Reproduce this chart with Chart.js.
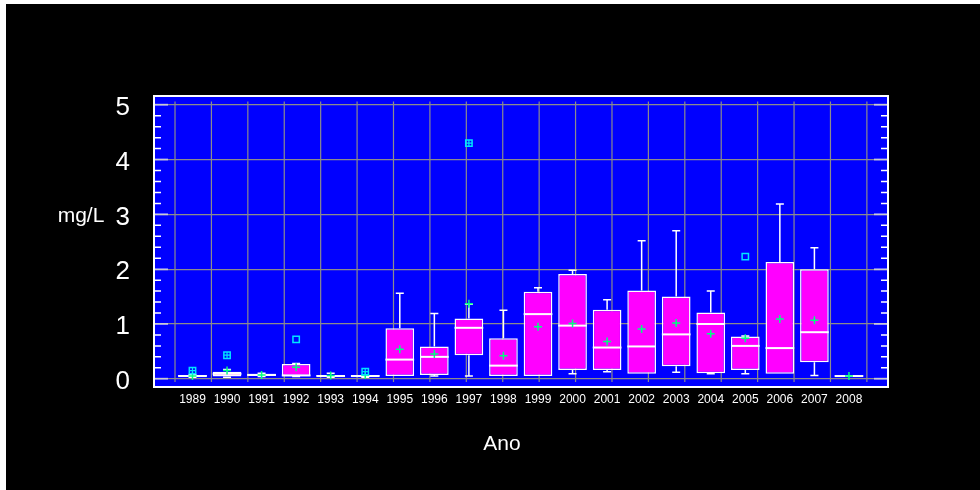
<!DOCTYPE html>
<html>
<head>
<meta charset="utf-8">
<script src="https://cdn.jsdelivr.net/npm/chart.js"></script>
<style>
  html, body { margin: 0; padding: 0; background: #ffffff; }
  #caixa { position: absolute; left: 6px; top: 4px; width: 974px; height: 486px; background: #000000; }
</style>
</head>
<body>
<div id="caixa"><canvas id="grafico"></canvas></div>
<script>
// --- dados (mg/L por ano) ---
const anos = [1989, 1990, 1991, 1992, 1993, 1994, 1995, 1996, 1997, 1998,
              1999, 2000, 2001, 2002, 2003, 2004, 2005, 2006, 2007, 2008];
const minimos = [0.03, 0.03, 0.04, 0.04, 0.03, 0.03, 0.05, 0.05, 0.05, 0.05,
                 0.05, 0.09, 0.13, 0.09, 0.12, 0.09, 0.09, 0.09, 0.06, 0.05];
const quartil1 = [0.04, 0.04, 0.05, 0.05, 0.04, 0.04, 0.05, 0.07, 0.43, 0.05,
                  0.05, 0.16, 0.16, 0.09, 0.23, 0.10, 0.16, 0.09, 0.30, 0.05];
const medianas = [0.05, 0.09, 0.07, 0.06, 0.05, 0.05, 0.35, 0.40, 0.93, 0.24,
                  1.18, 0.97, 0.57, 0.59, 0.81, 1.00, 0.60, 0.56, 0.85, 0.05];
const quartil3 = [0.07, 0.13, 0.09, 0.27, 0.07, 0.07, 0.92, 0.59, 1.10, 0.74,
                  1.59, 1.91, 1.26, 1.61, 1.50, 1.21, 0.77, 2.13, 2.00, 0.06];
const maximos = [0.08, 0.17, 0.10, 0.28, 0.10, 0.07, 1.56, 1.19, 1.36, 1.25,
                 1.66, 1.98, 1.44, 2.52, 2.70, 1.60, 0.78, 3.19, 2.39, 0.06];
const medias = [0.05, 0.15, 0.07, 0.21, 0.06, 0.07, 0.54, 0.45, 1.37, 0.42,
                0.95, 1.01, 0.68, 0.91, 1.02, 0.82, 0.74, 1.09, 1.07, 0.05];
const outlierAnos = [1992, 2005];
const outlierValores = [0.72, 2.23];
const extremoAnos = [1989, 1990, 1994, 1997];
const extremoValores = [0.15, 0.43, 0.13, 4.30];
const yTicks = [0, 1, 2, 3, 4, 5];

const cinza = '#8c8c8c';

// fundo azul, grade vertical, marcas internas, bigodes, medianas, moldura e títulos
const detalhesCaixa = {
  id: 'detalhesCaixa',
  beforeDraw(chart) {
    const { ctx, chartArea: a } = chart;
    ctx.save();
    ctx.fillStyle = '#0000ff';
    ctx.fillRect(a.left, a.top, a.width, a.height);
    ctx.restore();
  },
  beforeDatasetsDraw(chart) {
    const { ctx, chartArea: a, scales } = chart;
    const xg = scales.xg, y = scales.y;
    ctx.save();
    ctx.strokeStyle = cinza;
    ctx.lineWidth = 1.2;
    for (let k = 0; k < anos.length; k++) {
      const px = xg.getPixelForValue(k);
      ctx.beginPath();
      ctx.moveTo(px, y.getPixelForValue(5.06));
      ctx.lineTo(px, y.getPixelForValue(-0.06));
      ctx.stroke();
    }
    // marcas internas nos dois lados
    for (let i = 0; i <= 25; i++) {
      const py = y.getPixelForValue(i / 5);
      const maior = i % 5 === 0;
      ctx.strokeStyle = maior ? 'rgba(255,255,255,0.55)' : '#ffffff';
      ctx.lineWidth = maior ? 2 : 1.5;
      const len = maior ? 14 : 7;
      ctx.beginPath();
      ctx.moveTo(a.left, py); ctx.lineTo(a.left + len, py);
      ctx.moveTo(a.right, py); ctx.lineTo(a.right - len, py);
      ctx.stroke();
    }
    ctx.restore();
  },
  afterDatasetDraw(chart, args) {
    if (args.index !== 0) return;
    const { ctx, scales } = chart;
    const y = scales.y;
    const meta = chart.getDatasetMeta(0);
    ctx.save();
    ctx.strokeStyle = '#ffffff';
    meta.data.forEach((bar, i) => {
      const { x, width } = bar.getProps(['x', 'width'], true);
      const meio = width / 2;
      // mediana
      const pm = y.getPixelForValue(medianas[i]);
      ctx.lineWidth = 2;
      ctx.beginPath();
      ctx.moveTo(x - meio, pm); ctx.lineTo(x + meio, pm);
      ctx.stroke();
      // bigodes
      ctx.lineWidth = 1.5;
      const p3 = y.getPixelForValue(quartil3[i]);
      const pMax = y.getPixelForValue(maximos[i]);
      const p1 = y.getPixelForValue(quartil1[i]);
      const pMin = y.getPixelForValue(minimos[i]);
      ctx.beginPath();
      if (maximos[i] > quartil3[i]) {
        ctx.moveTo(x, p3); ctx.lineTo(x, pMax);
        ctx.moveTo(x - 4, pMax); ctx.lineTo(x + 4, pMax);
      }
      if (minimos[i] < quartil1[i]) {
        ctx.moveTo(x, p1); ctx.lineTo(x, pMin);
        ctx.moveTo(x - 4, pMin); ctx.lineTo(x + 4, pMin);
      }
      ctx.stroke();
    });
    ctx.restore();
  },
  afterDraw(chart) {
    const { ctx, chartArea: a } = chart;
    ctx.save();
    ctx.strokeStyle = '#ffffff';
    ctx.lineWidth = 2;
    ctx.strokeRect(a.left, a.top, a.width, a.height);
    ctx.fillStyle = '#ffffff';
    ctx.textAlign = 'center';
    ctx.textBaseline = 'alphabetic';
    ctx.font = '21px "Liberation Sans", Arial, sans-serif';
    ctx.fillText('mg/L', 75, 218);
    ctx.fillText('Ano', 496, 446);
    ctx.restore();
  }
};

new Chart(document.getElementById('grafico'), {
  type: 'bar',
  data: {
    datasets: [
      {
        label: 'caixa',
        data: anos.map((a, i) => ({ x: a, y: [quartil1[i], quartil3[i]] })),
        backgroundColor: '#ff00ff',
        borderColor: '#ffffff',
        borderWidth: 1.5,
        borderSkipped: false,
        categoryPercentage: 1,
        barPercentage: 0.83,
        order: 3
      },
      {
        type: 'scatter',
        label: 'média',
        data: anos.map((a, i) => ({ x: a, y: medias[i] })),
        pointStyle: 'cross',
        radius: 4,
        borderColor: '#00ff80',
        borderWidth: 1.5,
        order: 2
      },
      {
        type: 'scatter',
        label: 'outliers',
        data: outlierAnos.map((a, i) => ({ x: a, y: outlierValores[i] })),
        pointStyle: 'rect',
        radius: 4.5,
        borderColor: '#00e5ff',
        backgroundColor: 'rgba(0,0,0,0)',
        borderWidth: 1.5,
        order: 1
      },
      {
        type: 'scatter',
        label: 'extremos',
        data: extremoAnos.map((a, i) => ({ x: a, y: extremoValores[i] })),
        pointStyle: 'rect',
        radius: 4.5,
        borderColor: '#00e5ff',
        backgroundColor: 'rgba(0,0,0,0)',
        borderWidth: 1.5,
        order: 1
      },
      {
        type: 'scatter',
        label: 'extremos cruz',
        data: extremoAnos.map((a, i) => ({ x: a, y: extremoValores[i] })),
        pointStyle: 'cross',
        radius: 3.2,
        borderColor: '#00e5ff',
        borderWidth: 1.2,
        order: 0
      }
    ]
  },
  options: {
    responsive: true,
    maintainAspectRatio: false,
    animation: false,
    layout: { padding: { top: 92, right: 92, left: 0, bottom: 0 } },
    plugins: {
      legend: { display: false },
      tooltip: { enabled: false },
      title: { display: false }
    },
    scales: {
      x: {
        type: 'linear',
        offset: false,
        min: 1987.886,
        max: 2009.13,
        afterBuildTicks: axis => { axis.ticks = anos.map(v => ({ value: v })); },
        afterFit: axis => { axis.height = 103; },
        grid: { display: false, drawTicks: false },
        border: { display: false },
        ticks: {
          color: '#ffffff',
          font: { size: 12, family: '"Liberation Sans", Arial, sans-serif' },
          padding: 5,
          autoSkip: false,
          maxRotation: 0,
          callback: v => String(v)
        }
      },
      // eixo auxiliar só para posicionar a grade vertical
      xg: {
        type: 'linear',
        position: 'top',
        offset: false,
        min: -0.577,
        max: 19.58,
        afterFit: axis => { axis.height = 0; },
        grid: { display: false, drawTicks: false },
        border: { display: false },
        ticks: { display: false }
      },
      y: {
        min: -0.15,
        max: 5.16,
        afterBuildTicks: axis => { axis.ticks = yTicks.map(v => ({ value: v })); },
        afterFit: axis => { axis.width = 148; },
        grid: { color: cinza, lineWidth: 1.2, drawTicks: false },
        border: { display: false },
        ticks: {
          color: '#ffffff',
          font: { size: 26, family: '"Liberation Sans", Arial, sans-serif' },
          padding: 24,
          labelOffset: 3
        }
      }
    }
  },
  plugins: [detalhesCaixa]
});
</script>
</body>
</html>
